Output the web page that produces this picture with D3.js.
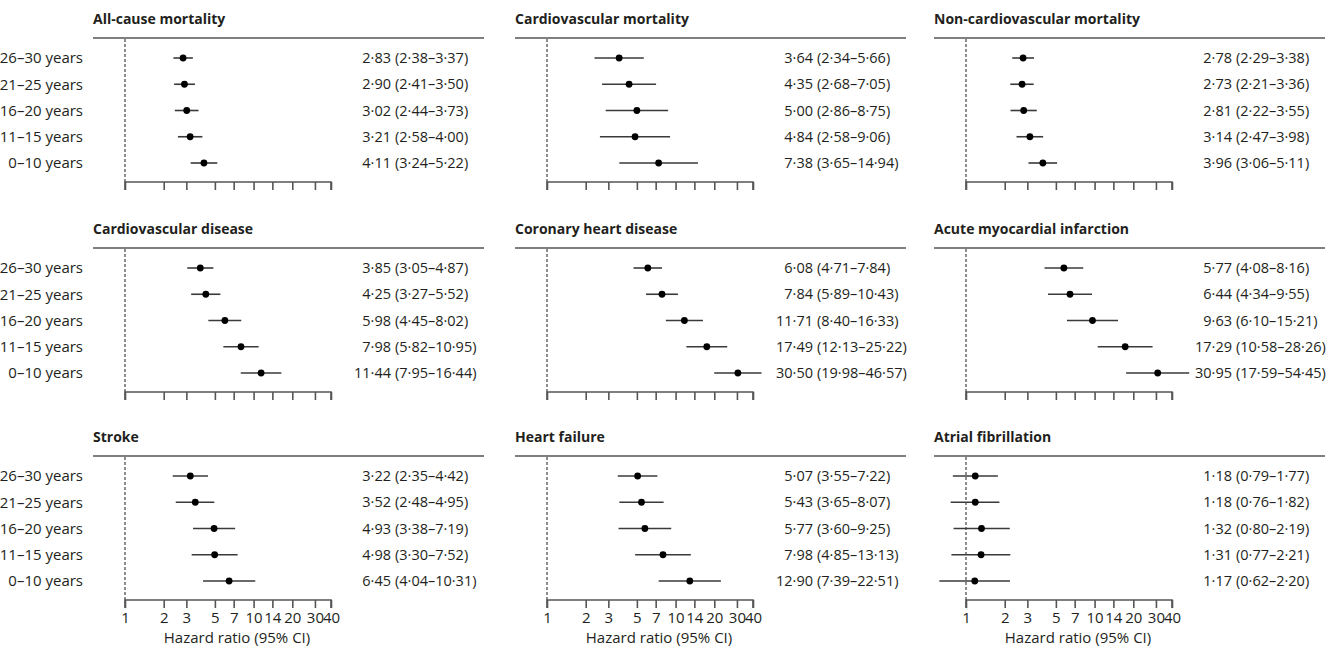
<!DOCTYPE html>
<html><head><meta charset="utf-8">
<script src="https://cdn.jsdelivr.net/npm/d3@7"></script>
<style>
body{margin:0;background:#fff;}
text{font-family:"Open Sans",sans-serif;fill:#231f20;}
</style></head>
<body><svg id="c" width="1338" height="648"></svg>
<script>
const categories = ["26–30 years","21–25 years","16–20 years","11–15 years","0–10 years"];
const tickValues = [1,2,3,5,7,10,14,20,30,40];
const panelTitles = ["All-cause mortality","Cardiovascular mortality","Non-cardiovascular mortality",
  "Cardiovascular disease","Coronary heart disease","Acute myocardial infarction",
  "Stroke","Heart failure","Atrial fibrillation"];
// [hazard ratio, lower 95% CI, upper 95% CI] per category
const allCause = [[2.83,2.38,3.37],[2.90,2.41,3.50],[3.02,2.44,3.73],[3.21,2.58,4.00],[4.11,3.24,5.22]];
const cvMortality = [[3.64,2.34,5.66],[4.35,2.68,7.05],[5.00,2.86,8.75],[4.84,2.58,9.06],[7.38,3.65,14.94]];
const nonCvMortality = [[2.78,2.29,3.38],[2.73,2.21,3.36],[2.81,2.22,3.55],[3.14,2.47,3.98],[3.96,3.06,5.11]];
const cvDisease = [[3.85,3.05,4.87],[4.25,3.27,5.52],[5.98,4.45,8.02],[7.98,5.82,10.95],[11.44,7.95,16.44]];
const chd = [[6.08,4.71,7.84],[7.84,5.89,10.43],[11.71,8.40,16.33],[17.49,12.13,25.22],[30.50,19.98,46.57]];
const ami = [[5.77,4.08,8.16],[6.44,4.34,9.55],[9.63,6.10,15.21],[17.29,10.58,28.26],[30.95,17.59,54.45]];
const stroke = [[3.22,2.35,4.42],[3.52,2.48,4.95],[4.93,3.38,7.19],[4.98,3.30,7.52],[6.45,4.04,10.31]];
const heartFailure = [[5.07,3.55,7.22],[5.43,3.65,8.07],[5.77,3.60,9.25],[7.98,4.85,13.13],[12.90,7.39,22.51]];
const atrialFib = [[1.18,0.79,1.77],[1.18,0.76,1.82],[1.32,0.80,2.19],[1.31,0.77,2.21],[1.17,0.62,2.20]];
const panelData = [allCause,cvMortality,nonCvMortality,cvDisease,chd,ami,stroke,heartFailure,atrialFib];

const svg = d3.select("#c");
const colX1 = [125, 547, 966];
const rowHeader = [38, 248, 456];
const fmt = v => d3.format(".2f")(v).replace(".", "·");

panelData.forEach((data, i) => {
  const col = i % 3, row = Math.floor(i / 3);
  const x1 = colX1[col], hy = rowHeader[row];
  const g = svg.append("g");
  const x = d3.scaleLog().domain([1, 40]).range([x1, x1 + 206]);
  const y = d3.scalePoint().domain(categories).range([hy + 20, hy + 125]);
  const axisY = hy + 144;

  g.append("text").attr("x", x1 - 32).attr("y", hy - 14)
    .style("font-weight", "700").style("font-size", "14px").text(panelTitles[i]);
  g.append("line").attr("x1", x1 - 32).attr("x2", x1 + 359).attr("y1", hy).attr("y2", hy)
    .attr("stroke", "#555").attr("stroke-width", 1.6);
  g.append("line").attr("x1", x(1)).attr("x2", x(1)).attr("y1", hy + 1).attr("y2", axisY)
    .attr("stroke", "#444").attr("stroke-width", 1.2).attr("stroke-dasharray", "3,2");

  if (col === 0) {
    g.selectAll(".cat").data(categories).join("text")
      .attr("x", 83).attr("y", d => y(d)).attr("dy", "0.35em")
      .attr("text-anchor", "end").style("font-size", "15px").text(d => d);
  }

  const ax = g.append("g").attr("transform", `translate(0,${axisY})`)
    .call(d3.axisBottom(x).tickValues(tickValues).tickSize(8).tickPadding(4)
      .tickFormat(row === 2 ? d3.format("d") : () => ""));
  ax.select(".domain").attr("stroke", "#555").attr("stroke-width", 1.6)
    .attr("d", `M${x(1)},8V0H${x(40)}V8`);
  ax.selectAll(".tick line").attr("stroke", "#555").attr("stroke-width", 1.6);
  ax.selectAll(".tick text").style("font-size", "15px").style("font-family", "Open Sans").attr("fill", "#231f20");

  if (row === 2) {
    g.append("text").attr("x", x1 + 112).attr("y", axisY + 43).attr("text-anchor", "middle")
      .style("font-size", "15px").text("Hazard ratio (95% CI)");
  }

  data.forEach((d, j) => {
    const cy = y(categories[j]);
    g.append("line").attr("x1", x(d[1])).attr("x2", x(d[2])).attr("y1", cy).attr("y2", cy)
      .attr("stroke", "#3a3a3a").attr("stroke-width", 1.6);
    g.append("circle").attr("cx", x(d[0])).attr("cy", cy).attr("r", 3.4).attr("fill", "#000");
    g.append("text").attr("x", x1 + 266).attr("y", cy).attr("dy", "0.35em").attr("text-anchor", "end")
      .style("font-size", "14.5px").text(fmt(d[0]));
    g.append("text").attr("x", x1 + 270).attr("y", cy).attr("dy", "0.35em")
      .style("font-size", "14.5px").text(`(${fmt(d[1])}–${fmt(d[2])})`);
  });
});
</script></body></html>
